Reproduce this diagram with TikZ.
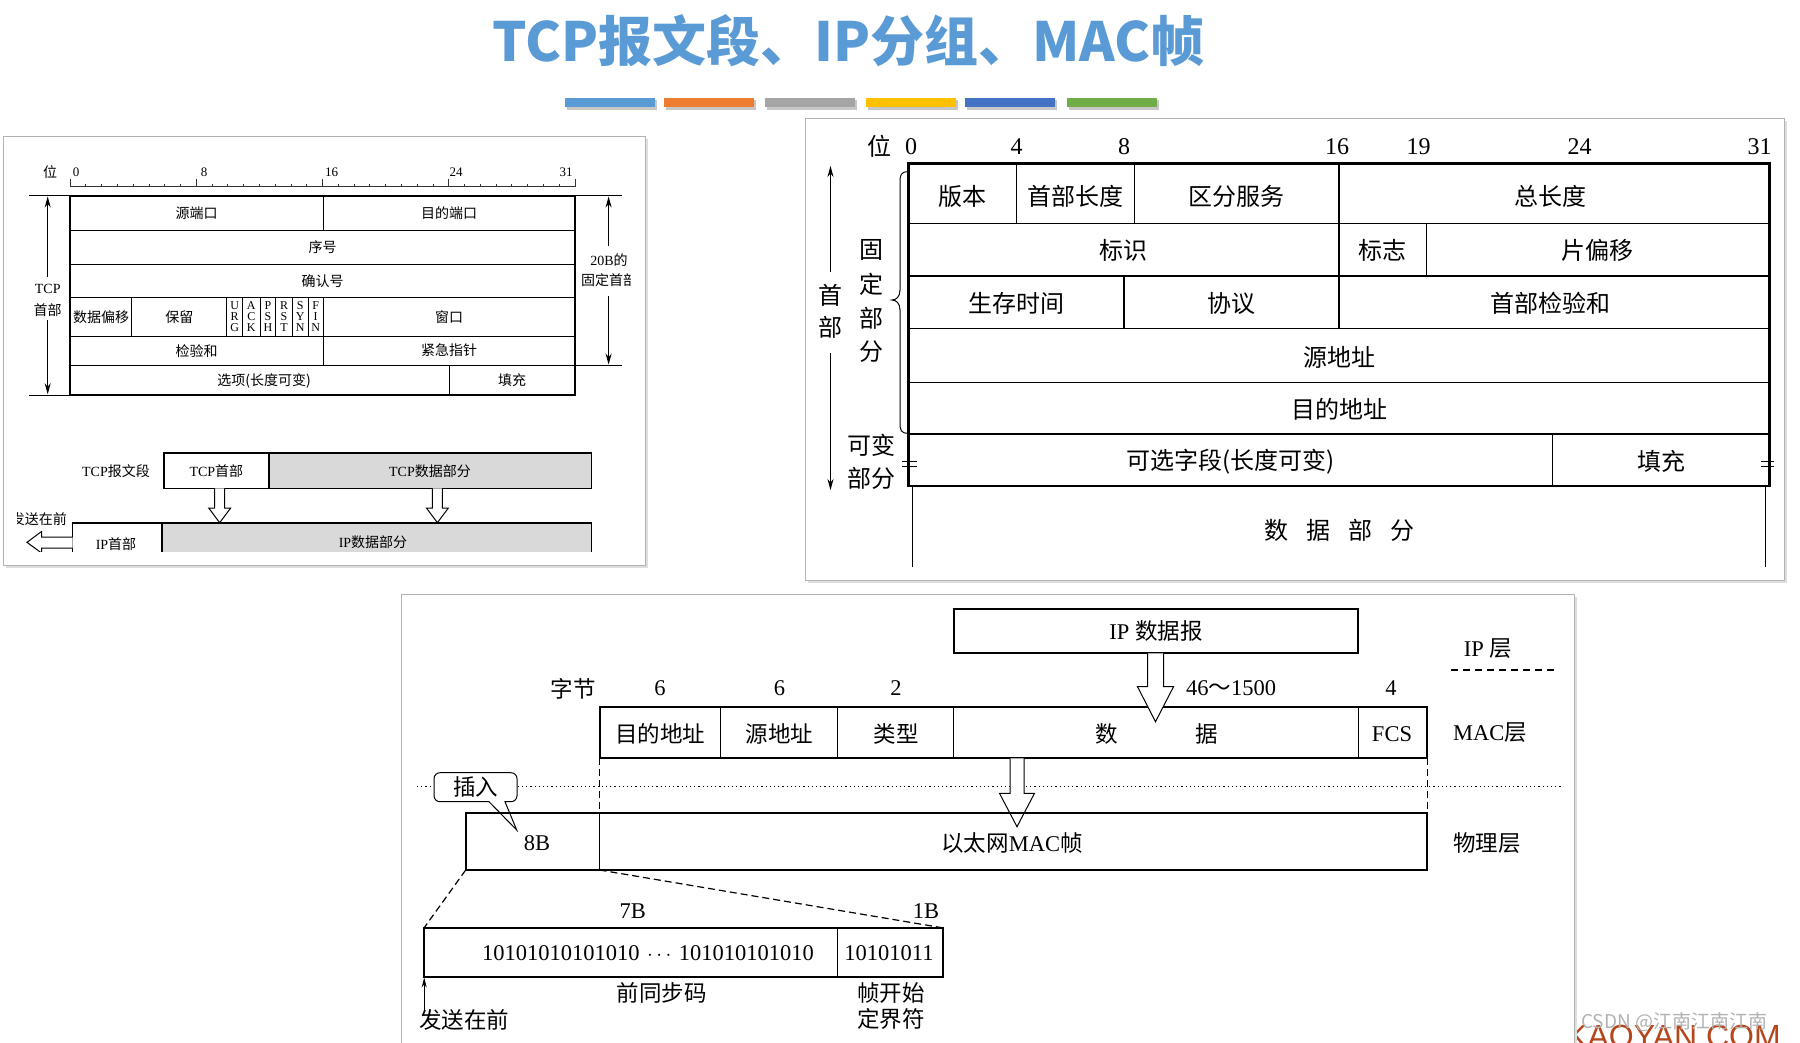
\documentclass[tikz,border=0pt]{standalone}
\usepackage{fontspec}
\setmainfont{Liberation Serif}
\newfontfamily\cjk{Noto Sans CJK SC}
\newfontfamily\lsans{Liberation Sans}
\newcommand\C[1]{{\cjk #1}}
\usetikzlibrary{arrows.meta}
\definecolor{tblue}{HTML}{5B9BD5}
\definecolor{barA}{HTML}{5B9BD5}
\definecolor{barB}{HTML}{ED7D31}
\definecolor{barC}{HTML}{A5A5A5}
\definecolor{barD}{HTML}{FFC000}
\definecolor{barE}{HTML}{4472C4}
\definecolor{barF}{HTML}{70AD47}
\definecolor{kaoyan}{HTML}{B5461C}
\definecolor{graybox}{HTML}{D9D9D9}
\newcommand\hdown[6]{\draw[line width=1pt,fill=white] (#1-#5,#2) -- (#1-#5,#3) -- (#1-#6,#3) -- (#1,#4) -- (#1+#6,#3) -- (#1+#5,#3) -- (#1+#5,#2);}
\tikzset{
  lt/.style={font=\fontsize{14}{16}\selectfont},
  ln/.style={font=\fontsize{13}{15}\selectfont},
  lf/.style={font=\fontsize{12}{11}\selectfont, align=center},
  rt/.style={font=\fontsize{24}{28}\selectfont},
  mt/.style={font=\fontsize{22.5}{26}\selectfont},
  thickA/.style={line width=1.6pt},
  thinA/.style={line width=0.9pt},
  panel/.style={draw=black!30, line width=0.8pt, fill=white},
  shade/.style={fill=black!13},
  arr/.style={-{Stealth[length=11pt,width=6pt]}, line width=1pt},
}
\begin{document}
\begin{tikzpicture}[x=1pt,y=-1pt, every node/.style={inner sep=0pt}]
\useasboundingbox (0,0) rectangle (1800,1042);
\fill[white] (0,0) rectangle (1800,1042);

% ---------------- title ----------------
\node[font=\cjk\bfseries\fontsize{54}{58}\selectfont, text=tblue] (title) at (848.5,41) {TCP报文段、IP分组、MAC帧};
\foreach \x/\c in {565/barA,663.5/barB,764.7/barC,866/barD,965/barE,1066.7/barF}{
  \fill[black!22] (\x+2,100) rectangle (\x+92,110);
  \fill[\c] (\x,97.5) rectangle (\x+90,106.8);
}

% ---------------- left panel (TCP) ----------------
\fill[shade] (6,139) rectangle (648,568);
\draw[panel] (3.4,136) rectangle (645,565);
\begin{scope}
\clip (17,150) rectangle (630,551);
\node[font=\fontsize{10}{12}\selectfont, text=black!60] (ltop) at (331,145) {32\C{位}};
% ruler
\draw[line width=0.8pt, black!80] (70,186.5) -- (575,186.5);
\foreach \i in {0,...,32}{
  \pgfmathsetmacro\tl{mod(\i,8)==0 ? 8 : 3}
  \draw[line width=0.8pt, black!80] (70+\i*15.78,186.5) -- ++(0,-\tl);
}
\node[lt] (lwei) at (50,172) {\C{位}};
\node[ln] (l0) at (76,172) {0};
\node[ln] (l8) at (204,172) {8};
\node[ln] (l16) at (331.5,172) {16};
\node[ln] (l24) at (456,172) {24};
\node[ln] (l31) at (566,172) {31};
% table
\draw[thinA] (29,195.7) -- (622,195.7) (575,365.3) -- (622,365.3) (29,395) -- (70,395);
\draw[thinA] (70,230.3) -- (575,230.3) (70,264) -- (575,264) (70,297.7) -- (575,297.7) (70,336) -- (575,336) (70,365.3) -- (575,365.3);
\draw[thinA] (323.4,195.7) -- (323.4,230.3);
\foreach \x in {131.8,226.8,242.5,260,275.7,292.3,308,323.4}{\draw[thinA] (\x,297.7) -- (\x,336);}
\draw[thinA] (323.8,336) -- (323.8,365.3);
\draw[thinA] (449,365.3) -- (449,395);
\draw[thickA] (70,195.7) rectangle (575,395);
\node[lt] (t1) at (196.7,213.5) {\C{源端口}};
\node[lt] (t2) at (449,213.5) {\C{目的端口}};
\node[lt] (t3) at (322.5,247.5) {\C{序号}};
\node[lt] (t4) at (322.5,281) {\C{确认号}};
\node[lt] (t5) at (101,317) {\C{数据偏移}};
\node[lt] (t6) at (179.3,317) {\C{保留}};
\node[lf] (fU) at (234.7,317) {U\\R\\G};
\node[lf] (fA) at (251.3,317) {A\\C\\K};
\node[lf] (fP) at (267.9,317) {P\\S\\H};
\node[lf] (fR) at (284,317) {R\\S\\T};
\node[lf] (fS) at (300.2,317) {S\\Y\\N};
\node[lf] (fF) at (315.7,317) {F\\I\\N};
\node[lt] (t7) at (449,317) {\C{窗口}};
\node[lt] (t8) at (196.7,351) {\C{检验和}};
\node[lt] (t9) at (449,350) {\C{紧急指针}};
\node[lt] (t10) at (264,380.5) {\C{选项(长度可变)}};
\node[lt] (t11) at (512,380.5) {\C{填充}};
% side arrows
\draw[arr] (47.7,277) -- (47.7,196.5);
\draw[arr] (47.7,320) -- (47.7,394.2);
\node[lt] (ltcp) at (47.7,288.5) {TCP};
\node[lt] (lsb) at (47.7,310.5) {\C{首部}};
\draw[arr] (608.6,246) -- (608.6,196.5);
\draw[arr] (608.6,296) -- (608.6,364.5);
\node[lt] (l20b) at (609,260) {20B\C{的}};
\node[lt] (lgd) at (609,280.5) {\C{固定首部}};
% segment / packet
\node[lt] (lseg) at (116,471) {TCP\C{报文段}};
\draw[thickA] (164,453) rectangle (268.7,488.3);
\draw[thickA, fill=graybox] (268.7,453) rectangle (591.6,488.3);
\node[lt] (ltcph) at (216.4,471) {TCP\C{首部}};
\node[lt] (ltcpd) at (430,471) {TCP\C{数据部分}};
\hdown{219.7}{488.3}{508}{522.7}{5}{11}
\hdown{437.4}{488.3}{508}{522.7}{5}{11}
\draw[thickA] (72.5,522.7) rectangle (161.7,565);
\draw[thickA, fill=graybox] (161.7,522.7) rectangle (591.6,565);
\node[lt] (liph) at (116,544) {IP\C{首部}};
\node[lt] (lipd) at (373,542.5) {IP\C{数据部分}};
\node[lt, anchor=east] (lsend) at (67,519) {\C{发送在前}};
\draw[line width=1pt, fill=white] (72.5,537) -- (41.5,537) -- (41.5,531.5) -- (27,542.3) -- (41.5,553) -- (41.5,548) -- (72.5,548);
\end{scope}

% ---------------- right panel (IP) ----------------
\fill[shade] (808,121) rectangle (1787,583);
\draw[panel] (805,118) rectangle (1784,580);
\node[rt] (rwei) at (879,146.7) {\C{位}};
\node[rt] (r0) at (911,146.7) {0};
\node[rt] (r4) at (1016.5,146.7) {4};
\node[rt] (r8) at (1124,146.7) {8};
\node[rt] (r16) at (1337,146.7) {16};
\node[rt] (r19) at (1418.5,146.7) {19};
\node[rt] (r24) at (1579.5,146.7) {24};
\node[rt] (r31) at (1759.5,146.7) {31};
\draw[line width=1.6pt] (908.4,223.3) -- (1769.4,223.3) (908.4,275.7) -- (1769.4,275.7) (908.4,328.3) -- (1769.4,328.3) (908.4,382.3) -- (1769.4,382.3) (908.4,434) -- (1769.4,434);
\draw[line width=1.3pt] (1016.8,163.3) -- (1016.8,223.3) (1134.8,163.3) -- (1134.8,223.3) (1338.9,163.3) -- (1338.9,328.3) (1426.3,223.3) -- (1426.3,275.7) (1124,275.7) -- (1124,328.3);
\draw[line width=1pt] (1552.6,434) -- (1552.6,486);
\draw[line width=1pt] (912,486) -- (912,566.7) (1765,486) -- (1765,566.7);
\draw[line width=2.8pt] (908.4,163.3) rectangle (1769.4,486);
\draw[line width=1pt] (902,461) -- (917,461) (902,466) -- (917,466) (1761,461) -- (1774,461) (1761,466) -- (1774,466);
\node[rt] (i1) at (962.6,196) {\C{版本}};
\node[rt] (i2) at (1075.8,196) {\C{首部长度}};
\node[rt] (i3) at (1236.9,196) {\C{区分服务}};
\node[rt] (i4) at (1550,196) {\C{总长度}};
\node[rt] (i5) at (1123.6,250.5) {\C{标识}};
\node[rt] (i6) at (1382.6,250.5) {\C{标志}};
\node[rt] (i7) at (1597.9,250.5) {\C{片偏移}};
\node[rt] (i8) at (1016,303) {\C{生存时间}};
\node[rt] (i9) at (1231.5,303) {\C{协议}};
\node[rt] (i10) at (1550,303) {\C{首部检验和}};
\node[rt] (i11) at (1339,357) {\C{源地址}};
\node[rt] (i12) at (1339,409) {\C{目的地址}};
\node[rt] (i13) at (1230.5,461.5) {\C{可选字段(长度可变)}};
\node[rt] (i14) at (1661,461.5) {\C{填充}};
\node[rt] (i15) at (1339,530) {\C{数\hspace{18pt}据\hspace{18pt}部\hspace{18pt}分}};
% side
\draw[arr] (830.5,272) -- (830.5,166);
\draw[arr] (830.5,353) -- (830.5,490);
\node[rt] (ish) at (830.5,295) {\C{首}};
\node[rt] (ibu) at (830.5,327) {\C{部}};
\draw[line width=1pt] (908,171.7) .. controls (901,171.7) and (900,175) .. (900,182) -- (900,290) .. controls (900,297) and (896,300) .. (892,300) .. controls (896,300) and (900,303) .. (900,310) -- (900,423) .. controls (900,430) and (901,433.3) .. (908,433.3);
\node[rt] (g1) at (871.7,250) {\C{固}};
\node[rt] (g2) at (871.7,284) {\C{定}};
\node[rt] (g3) at (871.7,318) {\C{部}};
\node[rt] (g4) at (871.7,352) {\C{分}};
\node[rt] (k1) at (871.7,445) {\C{可变}};
\node[rt] (k2) at (871.7,478) {\C{部分}};

% ---------------- watermark ----------------
\node[font=\lsans\fontsize{32}{34}\selectfont, text=kaoyan, anchor=base west] (kaoyan) at (1566,1047) {KAOYAN.COM};

% ---------------- bottom panel (MAC) ----------------
\fill[shade] (405,597) rectangle (1577,1050);
\draw[panel] (401.8,594) rectangle (1574,1050);
\draw[line width=2.2pt] (953.6,609) rectangle (1358,653.3);
\node[mt] (ipd) at (1156,631) {IP \C{数据报}};
\node[mt] (zj) at (573,688.5) {\C{字节}};
\node[mt] (n1) at (660,688.5) {6};
\node[mt] (n2) at (779.5,688.5) {6};
\node[mt] (n3) at (896,688.5) {2};
\node[mt] (n4) at (1231,688.5) {46\C{～}1500};
\node[mt] (n5) at (1391,688.5) {4};
\draw[line width=1pt] (720,706.7) -- (720,758.3) (837.5,706.7) -- (837.5,758.3) (953.6,706.7) -- (953.6,758.3) (1358,706.7) -- (1358,758.3);
\draw[line width=2.2pt] (599.6,706.7) rectangle (1427,758.3);
\node[mt] (m1) at (660,734) {\C{目的地址}};
\node[mt] (m2) at (779.5,734) {\C{源地址}};
\node[mt] (m3) at (896,734) {\C{类型}};
\node[mt] (m4) at (1106.5,734) {\C{数}};
\node[mt] (m5) at (1206.5,734) {\C{据}};
\node[mt] (m6) at (1392,734) {FCS};
\draw[line width=1pt, dash pattern=on 7pt off 4pt] (599.6,758.3) -- (599.6,813.3) (1427,758.3) -- (1427,813.3);
\draw[line width=1pt, dash pattern=on 1.2pt off 3pt] (417,786.7) -- (1561,786.7);
\hdown{1155.5}{653.3}{686.7}{721.7}{8}{18}
\hdown{1017}{758.3}{793.3}{826.7}{7}{17.5}
\draw[line width=1pt, fill=white] (505,801.7) -- (516.7,830) -- (489,801.7) [rounded corners=6pt] -- (434,801.7) -- (434,772.7) -- (517,772.7) -- (517,801.7) [sharp corners] -- cycle;
\node[mt] (charu) at (475.5,787) {\C{插入}};
\draw[line width=2.2pt] (465.7,813.3) rectangle (1427,870);
\draw[line width=1pt] (599.6,813.3) -- (599.6,870);
\node[mt] (b8) at (537,843.5) {8B};
\node[mt] (eth) at (1012,843.5) {\C{以太网}MAC\C{帧}};
\draw[line width=1.2pt, dash pattern=on 7pt off 4pt] (465.7,870) -- (424.2,927.7);
\draw[line width=1.2pt, dash pattern=on 7pt off 4pt] (599.6,870) -- (942,927.7);
\node[mt] (b7) at (632.8,911) {7B};
\node[mt] (b1) at (926,911) {1B};
\draw[line width=1pt] (837,927.7) -- (837,976.7);
\draw[line width=2.2pt] (424.2,927.7) rectangle (943,976.7);
\node[mt] (pre) at (648,953.5) {10101010101010\,\,$\cdots$\,\,101010101010};
\node[mt] (sfd) at (889,953.5) {10101011};
\node[mt] (qtb) at (661.5,993) {\C{前同步码}};
\node[mt] (zks) at (891,993) {\C{帧开始}};
\node[mt] (djf) at (891,1019) {\C{定界符}};
\draw[-{Stealth[length=10pt,width=5pt]}, line width=0.9pt] (424.2,1010) -- (424.2,977.5);
\node[mt] (fszq) at (464,1020) {\C{发送在前}};
\node[mt] (lip) at (1488,648.5) {IP \C{层}};
\draw[line width=1.2pt, dash pattern=on 7pt off 5pt] (1451,670) -- (1557,670);
\node[mt] (lmac) at (1490,733) {MAC\C{层}};
\node[mt] (lphy) at (1487,843) {\C{物理层}};

\node[font=\cjk\fontsize{19}{21}\selectfont, text=black!30, anchor=west] (csdn) at (1581,1022.5) {CSDN @江南江南江南};
\end{tikzpicture}
\end{document}
